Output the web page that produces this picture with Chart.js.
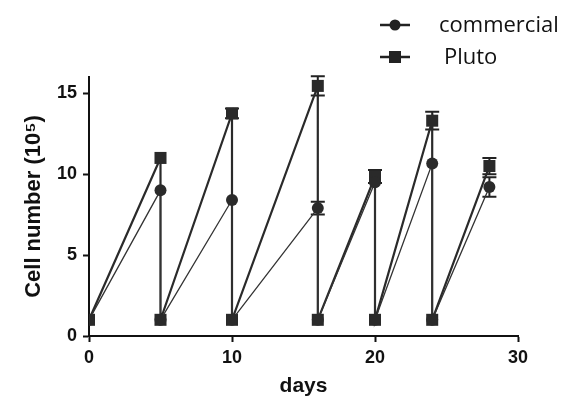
<!DOCTYPE html>
<html>
<head>
<meta charset="utf-8">
<script src="https://cdn.jsdelivr.net/npm/chart.js@4.4.0/dist/chart.umd.min.js"></script>
<style>
  html, body { margin: 0; padding: 0; background: #fff; }
  #wrap { position: relative; width: 577px; height: 402px; overflow: hidden; }
  #legend { position: absolute; left: 0; top: 0; width: 577px; height: 80px; pointer-events: none; }
  .lg-item { position: absolute; font-family: "Open Sans", "Liberation Sans", sans-serif; font-size: 22px; color: #111; line-height: 1; white-space: nowrap; }
  .lg-sym { position: absolute; }
</style>
</head>
<body>
<div id="wrap">
  <canvas id="c" width="577" height="402"></canvas>
  <div id="legend">
    <svg class="lg-sym" style="left:378px;top:17px" width="34" height="16">
      <line x1="2" y1="8" x2="32" y2="8" stroke="#222" stroke-width="2.5"/>
      <circle cx="17" cy="8" r="5.5" fill="#222"/>
    </svg>
    <span class="lg-item" style="left:439px;top:12px">commercial</span>
    <svg class="lg-sym" style="left:378px;top:49px" width="34" height="16">
      <line x1="2" y1="8" x2="32" y2="8" stroke="#222" stroke-width="2.5"/>
      <rect x="11" y="2" width="12" height="12" fill="#222"/>
    </svg>
    <span class="lg-item" style="left:444px;top:44px">Pluto</span>
  </div>
</div>
<script>
// ---- data ----
const days = [0, 5, 5, 10, 10, 16, 16, 20, 20, 24, 24, 28];
const commercialValues = [1, 9.0, 1, 8.4, 1, 7.9, 1, 9.5, 1, 10.65, 1, 9.2];
const commercialErrors = [0, 0, 0, 0, 0, 0.4, 0, 0, 0, 0, 0, 0.6];
const plutoValues = [1, 11.0, 1, 13.75, 1, 15.45, 1, 9.85, 1, 13.3, 1, 10.5];
const plutoErrors = [0, 0, 0, 0.3, 0, 0.6, 0, 0.4, 0, 0.55, 0, 0.5];
const xTicks = [0, 10, 20, 30];
const yTicks = [0, 5, 10, 15];
const seriesNames = ['commercial', 'Pluto'];

const toPoints = (xs, ys) => xs.map((x, i) => ({ x: x, y: ys[i] }));

const errorBars = {
  id: 'errorBars',
  beforeDatasetsDraw(chart) {
    const ctx = chart.ctx;
    const xs = chart.scales.x, ys = chart.scales.y;
    chart.data.datasets.forEach((ds) => {
      if (!ds.errors) return;
      ctx.save();
      ctx.strokeStyle = '#222';
      ctx.lineWidth = 2;
      ds.data.forEach((p, i) => {
        const e = ds.errors[i];
        if (!e) return;
        const px = xs.getPixelForValue(p.x);
        const top = ys.getPixelForValue(p.y + e);
        const bot = ys.getPixelForValue(p.y - e);
        ctx.beginPath();
        ctx.moveTo(px, top); ctx.lineTo(px, bot);
        ctx.moveTo(px - 7, top); ctx.lineTo(px + 7, top);
        ctx.moveTo(px - 7, bot); ctx.lineTo(px + 7, bot);
        ctx.stroke();
      });
      ctx.restore();
    });
  }
};

const fam = '"Liberation Sans", Arial, sans-serif';
const tickFont = { family: fam, size: 18, weight: 'bold' };

new Chart(document.getElementById('c'), {
  type: 'scatter',
  data: {
    datasets: [
      {
        label: seriesNames[0],
        data: toPoints(days, commercialValues),
        errors: commercialErrors,
        showLine: true,
        borderColor: '#333',
        borderWidth: 1.3,
        backgroundColor: '#2a2a2a',
        pointBackgroundColor: '#2a2a2a',
        pointBorderColor: '#2a2a2a',
        pointStyle: 'circle',
        pointRadius: 6,
        pointBorderWidth: 0,
        tension: 0
      },
      {
        label: seriesNames[1],
        data: toPoints(days, plutoValues),
        errors: plutoErrors,
        showLine: true,
        borderColor: '#2a2a2a',
        borderWidth: 2.2,
        backgroundColor: '#2a2a2a',
        pointBackgroundColor: '#2a2a2a',
        pointBorderColor: '#2a2a2a',
        pointStyle: 'rect',
        pointRadius: 8.5,
        pointBorderWidth: 0,
        tension: 0
      }
    ]
  },
  options: {
    responsive: false,
    animation: false,
    devicePixelRatio: 1,
    layout: { padding: { top: 77, right: 59, left: 0, bottom: 0 } },
    plugins: { legend: { display: false }, tooltip: { enabled: false } },
    scales: {
      x: {
        type: 'linear',
        min: 0, max: 30,
        afterFit(scale) { scale.height = 66; },
        afterBuildTicks(scale) { scale.ticks = xTicks.map(v => ({ value: v })); },
        ticks: { font: tickFont, color: '#111', padding: 5, maxRotation: 0 },
        grid: { display: true, drawOnChartArea: false, drawTicks: true, tickLength: 6, tickWidth: 2, tickColor: '#111' },
        border: { display: true, width: 2, color: '#111' },
        title: {
          display: true, text: 'days', color: '#111',
          font: { family: fam, size: 21, weight: 'bold' },
          padding: { top: 0, bottom: 3 }
        }
      },
      y: {
        type: 'linear',
        min: 0, max: 16,
        afterFit(scale) { scale.width = 89; },
        afterBuildTicks(scale) { scale.ticks = yTicks.map(v => ({ value: v })); },
        ticks: { font: tickFont, color: '#111', padding: 6 },
        grid: { display: true, drawOnChartArea: false, drawTicks: true, tickLength: 6, tickWidth: 2, tickColor: '#111' },
        border: { display: true, width: 2, color: '#111' },
        title: {
          display: true, text: 'Cell number (10\u2075)', color: '#111',
          font: { family: fam, size: 22, weight: 'bold' },
          padding: { top: 21, bottom: 0 }
        }
      }
    }
  },
  plugins: [errorBars]
});
</script>
</body>
</html>
